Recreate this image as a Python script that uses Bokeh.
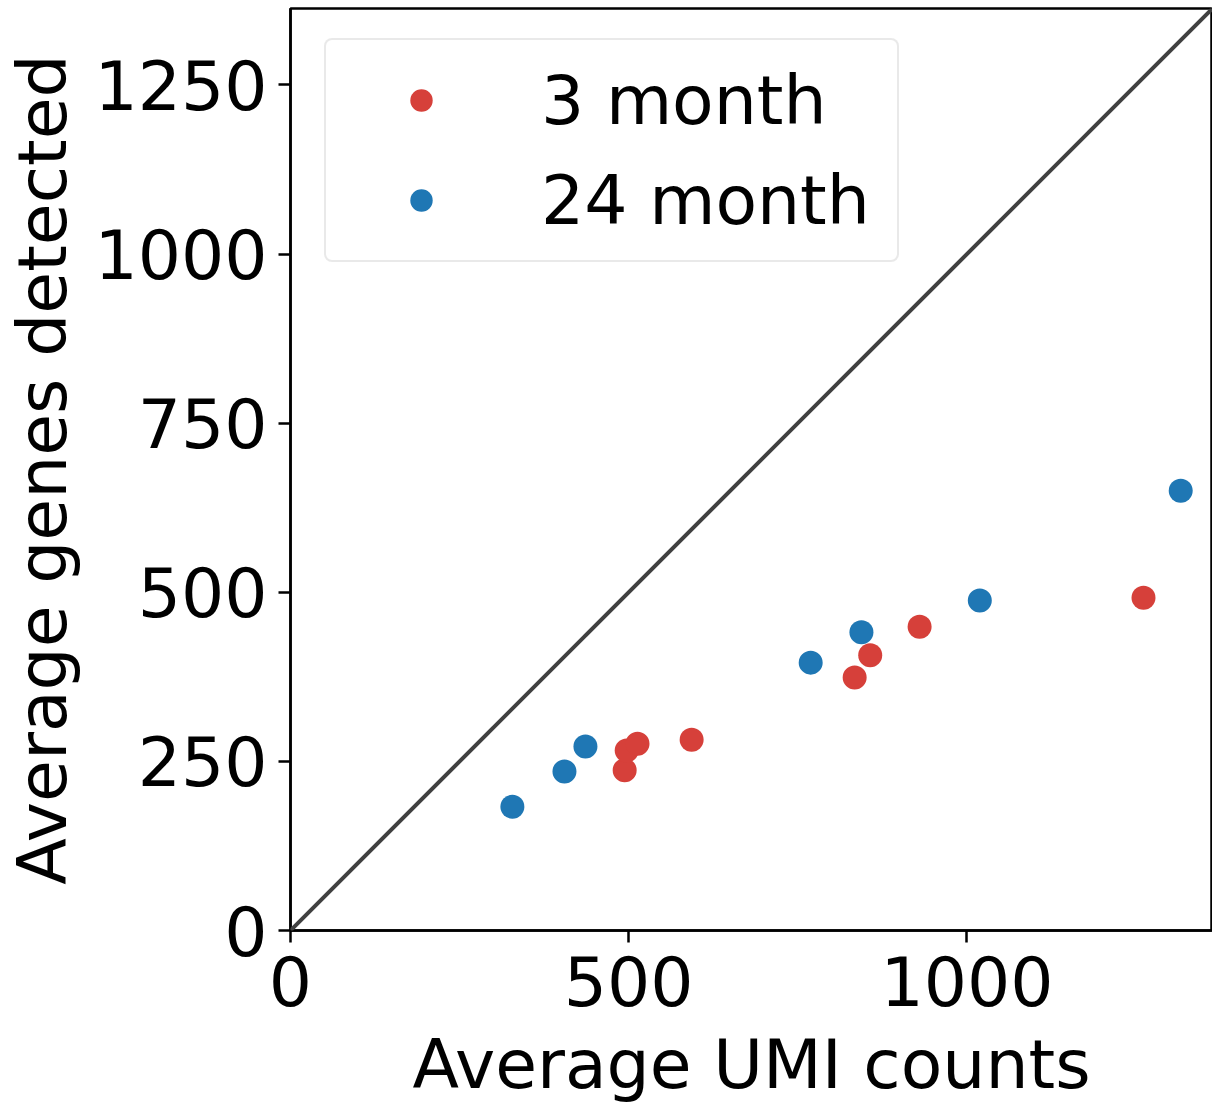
from bokeh.plotting import figure
from bokeh.models import Range1d, FixedTicker, Slope, Legend, LegendItem
from bokeh.embed import file_html
from bokeh.resources import INLINE

# Data
red_x = [494, 497, 513, 593, 834, 857, 930, 1261]
red_y = [237, 266, 276, 282, 374, 407, 449, 492]
blue_x = [328, 405, 436, 769, 844, 1019, 1316]
blue_y = [183, 235, 272, 396, 441, 488, 650]
x_ticks = [0, 500, 1000]
y_ticks = [0, 250, 500, 750, 1000, 1250]
series_labels = ["3 month", "24 month"]

RED = "#d6403a"
BLUE = "#1f77b4"
FONT = "DejaVu Sans"
FS = "68px"

p = figure(width=1212, height=1107, output_backend="svg", toolbar_location=None,
           x_range=Range1d(0, 1363), y_range=Range1d(0, 1363),
           min_border_left=290, min_border_right=0, min_border_top=8, min_border_bottom=177)
p.xgrid.visible = False
p.ygrid.visible = False
p.outline_line_color = "black"
p.outline_line_width = 2.5
p.background_fill_color = "white"
p.border_fill_color = "white"

p.add_layout(Slope(gradient=1, y_intercept=0, line_color="#404040", line_width=4))

r_red = p.scatter(red_x, red_y, size=24, color=RED, line_color=None)
r_blue = p.scatter(blue_x, blue_y, size=24, color=BLUE, line_color=None)

p.xaxis.ticker = FixedTicker(ticks=x_ticks)
p.yaxis.ticker = FixedTicker(ticks=y_ticks)
p.xaxis.axis_label = "Average UMI counts"
p.yaxis.axis_label = "Average genes detected"
for ax in (p.xaxis, p.yaxis):
    ax.axis_label_text_font = FONT
    ax.axis_label_text_font_size = FS
    ax.axis_label_text_font_style = "normal"
    ax.axis_label_text_color = "black"
    ax.major_label_text_font = FONT
    ax.major_label_text_font_size = FS
    ax.major_label_text_color = "black"
    ax.axis_line_width = 2.5
    ax.axis_line_color = "black"
    ax.major_tick_line_width = 2.5
    ax.major_tick_line_color = "black"
    ax.major_tick_out = 12
    ax.major_tick_in = 0
    ax.minor_tick_line_color = None
p.xaxis.major_label_standoff = 13
p.yaxis.major_label_standoff = 11
p.xaxis.axis_label_standoff = 16
p.yaxis.axis_label_standoff = 9

legend = Legend(items=[LegendItem(label=series_labels[0], renderers=[r_red]),
                       LegendItem(label=series_labels[1], renderers=[r_blue])],
                location=(34, 668))
legend.label_text_font = FONT
legend.label_text_font_size = FS
legend.label_text_color = "black"
legend.glyph_width = 150
legend.glyph_height = 56
legend.label_height = 80
legend.label_width = 336
legend.label_standoff = 45
legend.spacing = 20
legend.padding = 20
legend.margin = 0
legend.border_line_color = "#d3d3d3"
legend.border_line_width = 2.5
legend.border_radius = 8
legend.background_fill_color = "white"
legend.background_fill_alpha = 0.8
p.add_layout(legend)

open("out.html", "w").write(file_html(p, INLINE))
